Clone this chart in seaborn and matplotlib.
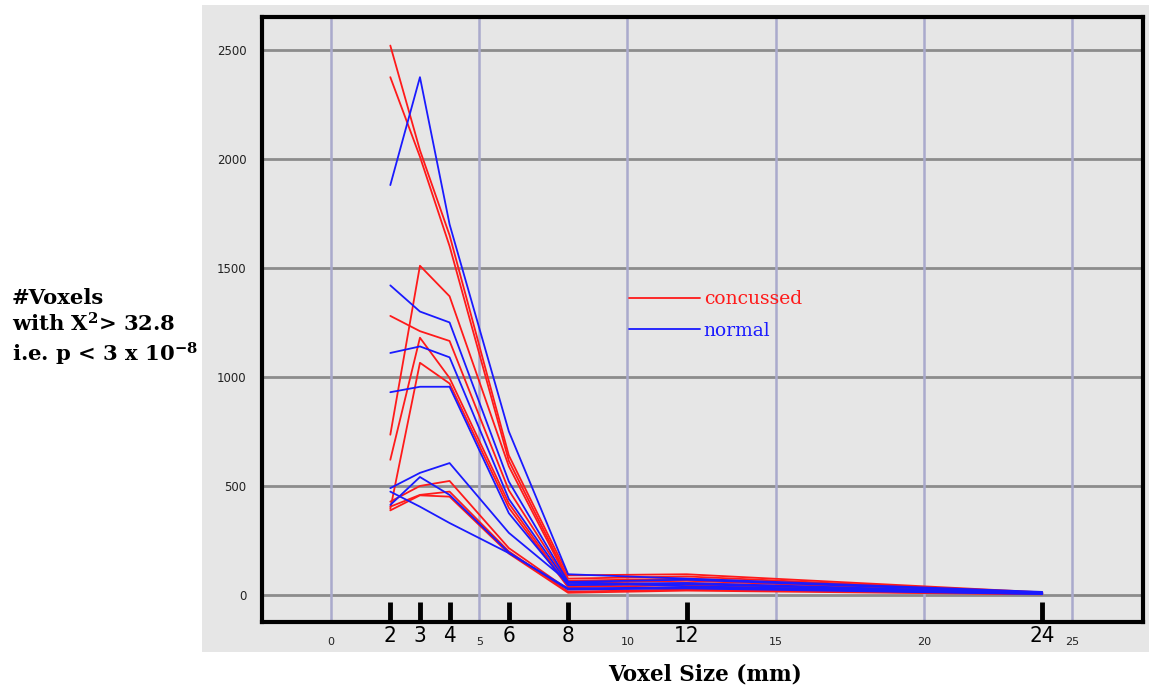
import numpy as np
import pandas as pd
import seaborn as sns
import matplotlib.pyplot as plt
from matplotlib.patches import Rectangle

# voxel sizes (mm) at which the counts were taken
sizes = [2, 3, 4, 6, 8, 12, 24]

# #voxels with X^2 > 32.8, one row per subject
concussed_counts = [
    [2520, 2040, 1650, 640, 90, 95, 12],
    [2375, 2010, 1600, 615, 75, 85, 10],
    [1280, 1210, 1165, 480, 55, 65, 8],
    [735, 1510, 1370, 590, 65, 75, 10],
    [620, 1180, 995, 420, 40, 55, 7],
    [395, 1065, 970, 400, 35, 45, 6],
    [428, 500, 523, 215, 25, 35, 5],
    [405, 459, 474, 200, 15, 25, 4],
    [388, 457, 451, 190, 10, 20, 3],
]
normal_counts = [
    [1880, 2375, 1700, 750, 95, 75, 14],
    [1420, 1300, 1250, 520, 60, 70, 10],
    [1110, 1140, 1090, 440, 50, 55, 8],
    [930, 955, 955, 375, 45, 50, 7],
    [490, 560, 605, 285, 60, 40, 8],
    [474, 405, 330, 192, 30, 35, 5],
    [413, 541, 459, 195, 25, 30, 4],
]
group_names = ["concussed", "normal"]
colors = {"concussed": "#ff1a1a", "normal": "#1a1aff"}

rows = []
for grp, table in zip(group_names, [concussed_counts, normal_counts]):
    for i, counts in enumerate(table):
        for s, c in zip(sizes, counts):
            rows.append({"group": grp, "subject": f"{grp}{i}", "size": s, "voxels": c})
df = pd.DataFrame(rows)

sns.set_style("white")
plt.rcParams["mathtext.default"] = "regular"

fig = plt.figure(figsize=(11.49, 6.88), dpi=100)
fig.add_artist(Rectangle((202 / 1149, 1 - 652 / 688), 947 / 1149, 647 / 688,
                         transform=fig.transFigure, facecolor="#e6e6e6",
                         edgecolor="none", zorder=-5))
ax = fig.add_axes([262 / 1149, 1 - 622 / 688, 881 / 1149, 605 / 688])
ax.set_facecolor("#e6e6e6")

sns.lineplot(data=df, x="size", y="voxels", hue="group", units="subject",
             estimator=None, palette=colors, hue_order=group_names,
             lw=1.3, ax=ax, zorder=3)

ax.set_xlim(-2.33, 27.4)
ax.set_ylim(-124, 2651)

# grid
for v in range(0, 2501, 500):
    ax.axhline(v, color="#8c8c8c", lw=2, zorder=1)
for v in range(0, 26, 5):
    ax.axvline(v, color="#aaaacc", lw=1.8, zorder=1)

# black bars marking the sampled voxel sizes
ax.vlines(sizes, -124, -30, color="black", lw=3.5, zorder=4)

for sp in ax.spines.values():
    sp.set_visible(True)
    sp.set_linewidth(3)
    sp.set_color("black")

ax.set_xticks(range(0, 26, 5))
ax.set_xticks(range(-2, 28), minor=True)
ax.tick_params(axis="x", which="both", direction="in", length=3, width=1.5,
               labelsize=8, pad=11, colors="black", labelcolor="#222222")
ax.set_yticks(range(0, 2501, 500))
ax.tick_params(axis="y", length=0, labelsize=8.5, pad=11, labelcolor="#222222")
ax.set_xlabel("")
ax.set_ylabel("")

# large labels for the sampled sizes
sec = ax.secondary_xaxis("bottom")
sec.set_xticks(sizes)
sec.set_xticklabels([str(s) for s in sizes], fontsize=16, fontstretch="condensed",
                    color="black")
sec.tick_params(length=0, pad=3)
sec.spines["bottom"].set_visible(False)

handles, labels = ax.get_legend_handles_labels()
leg = ax.legend(handles, labels, loc="upper left", bbox_to_anchor=(0.397, 0.576),
                frameon=False, handlelength=3.8, handletextpad=0.2, labelspacing=0.72,
                prop={"family": "DejaVu Serif", "size": 13.5}, labelcolor="linecolor")
for h in leg.legend_handles:
    h.set_linewidth(1.3)

fig.text(12 / 1149, 1 - 328 / 688, "#Voxels\nwith X$^{2}$> 32.8\ni.e. p < 3 x 10$^{-8}$",
         family="DejaVu Serif", fontweight="bold", fontsize=15.2, color="black",
         va="center", ha="left", linespacing=1.25)
fig.text(705 / 1149, 1 - 675 / 688, "Voxel Size (mm)", family="DejaVu Serif",
         fontweight="bold", fontsize=15.5, color="black", ha="center", va="center")

fig.savefig("out.png", dpi=100, facecolor="white")
